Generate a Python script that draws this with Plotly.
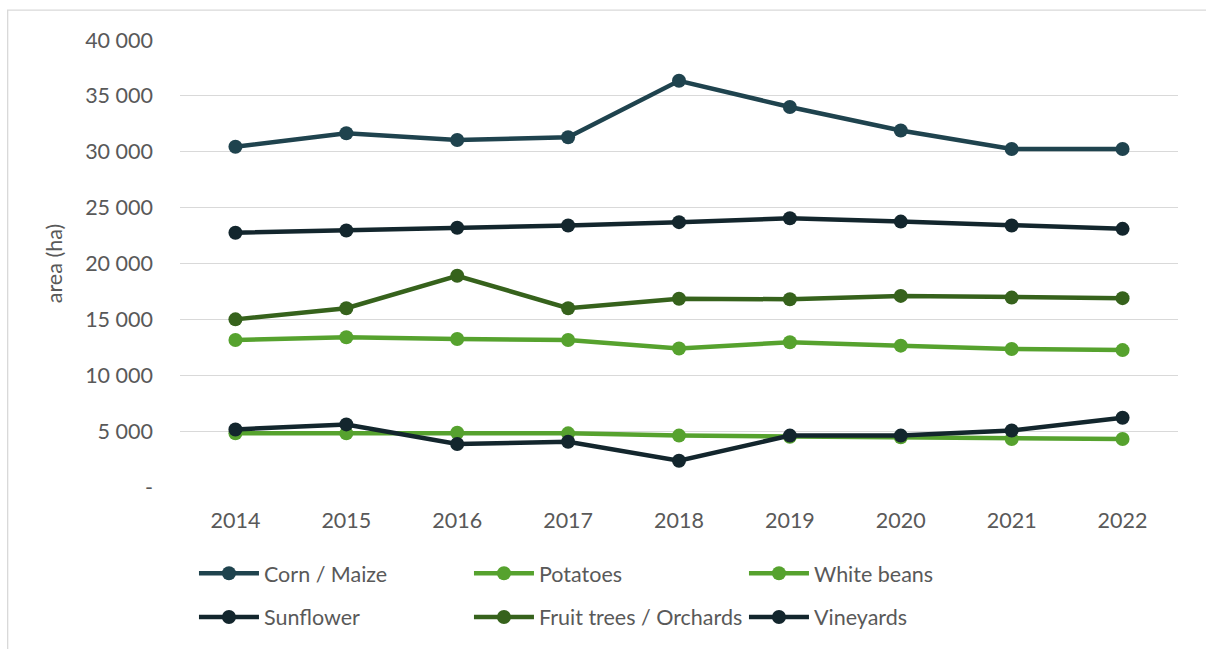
import plotly.graph_objects as go

years = ["2014", "2015", "2016", "2017", "2018", "2019", "2020", "2021", "2022"]

corn_maize = [30450, 31650, 31050, 31300, 36350, 34000, 31900, 30250, 30250]
potatoes = [13150, 13400, 13250, 13150, 12400, 12950, 12650, 12350, 12250]
white_beans = [4800, 4800, 4850, 4800, 4600, 4500, 4450, 4300, 4300]
sunflower = [5150, 5600, 3850, 4050, 2350, 4600, 4600, 5050, 6200]
fruit_trees = [15000, 16000, 18900, 16000, 16850, 16800, 17100, 16950, 16900]
vineyards = [22750, 22950, 23200, 23400, 23700, 24050, 23750, 23400, 23100]

y_ticks = [0, 5000, 10000, 15000, 20000, 25000, 30000, 35000, 40000]
y_tick_labels = ["-", "5 000", "10 000", "15 000", "20 000", "25 000", "30 000", "35 000", "40 000"]

# (name, values, colour, legend row)
series = [
    ("Corn / Maize", corn_maize, "#1f434e", "legend"),
    ("Potatoes", potatoes, "#56a22e", "legend"),
    ("White beans", white_beans, "#56a22e", "legend"),
    ("Sunflower", sunflower, "#13262d", "legend2"),
    ("Fruit trees / Orchards", fruit_trees, "#36621c", "legend2"),
    ("Vineyards", vineyards, "#13262d", "legend2"),
]

FONT = "Lato"
TEXT = "#595959"
FS = 21.5

fig = go.Figure()
for name, vals, col, leg in series:
    fig.add_trace(go.Scatter(
        x=years, y=vals, name=name, mode="lines+markers",
        line=dict(color=col, width=4.5),
        marker=dict(color=col, size=14),
        legend=leg,
    ))

legend_common = dict(
    orientation="h", xanchor="left", yanchor="middle",
    entrywidth=200, entrywidthmode="pixels", itemwidth=60,
    font=dict(family=FONT, size=FS, color=TEXT),
    traceorder="normal", bgcolor="rgba(0,0,0,0)",
)

fig.update_layout(
    width=1206, height=649,
    margin=dict(l=179.5, r=27.5, t=40, b=159),
    plot_bgcolor="white", paper_bgcolor="white",
    font=dict(family=FONT, size=FS, color=TEXT),
    showlegend=True,
    legend=dict(x=0.014, y=-0.193, **legend_common),
    legend2=dict(x=0.014, y=-0.291, **legend_common),
    xaxis=dict(
        type="category", range=[-0.5, 8.5], showgrid=False, zeroline=False,
        showline=False, ticks="", ticklabelstandoff=18,
        tickfont=dict(size=FS, color=TEXT),
    ),
    yaxis=dict(
        range=[0, 40000], tickvals=y_ticks, ticktext=y_tick_labels,
        showgrid=True, gridcolor="#d9d9d9", gridwidth=1.3, zeroline=False,
        showline=False, ticks="", ticklabelstandoff=26,
        tickfont=dict(size=FS, color=TEXT),
        title=dict(text="area (ha)", font=dict(size=FS, color=TEXT), standoff=16),
    ),
    shapes=[dict(
        type="rect", xref="paper", yref="paper",
        x0=(7 - 179.5) / 999, x1=1.2, y0=-0.5, y1=(490 - 10) / 450,
        line=dict(color="#d9d9d9", width=1.3), fillcolor="rgba(0,0,0,0)", layer="below",
    )],
)

fig.write_html("out.html")
